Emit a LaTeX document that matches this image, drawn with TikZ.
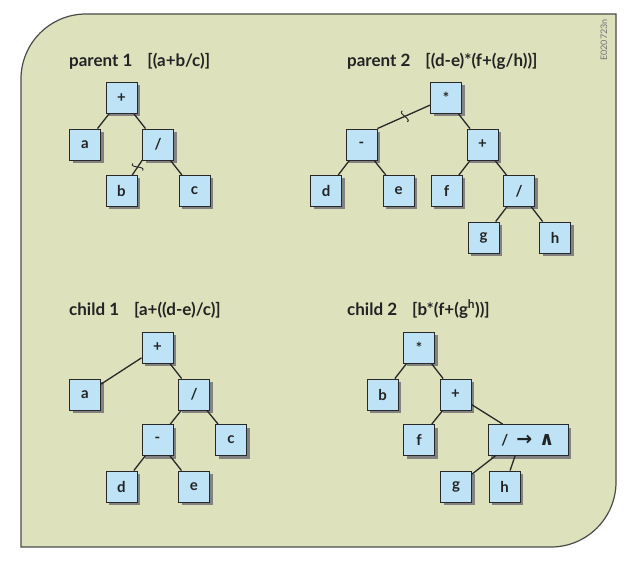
\documentclass[tikz,border=0pt]{standalone}
\usepackage{fontspec}
\setmainfont{Lato}
\newfontfamily\symfont{DejaVu Sans}
\usetikzlibrary{shadows,calc}
\definecolor{PanelClr}{RGB}{221,226,189}
\definecolor{PanelLine}{RGB}{75,75,75}
\definecolor{BoxClr}{RGB}{190,226,246}
\definecolor{BoxLine}{RGB}{40,40,40}
\definecolor{ShadowClr}{RGB}{130,130,130}
\definecolor{TextClr}{RGB}{35,35,35}

\tikzset{
  treebox/.style={draw=BoxLine, line width=0.9pt, fill=BoxClr,
    minimum width=31pt, minimum height=31pt, inner sep=0pt, text=TextClr,
    font=\bfseries\fontsize{15}{15}\selectfont,
    drop shadow={shadow xshift=3pt, shadow yshift=-3pt, fill=ShadowClr, opacity=1}},
  link/.style={draw=BoxLine, line width=1.3pt},
  cutmark/.style={draw=BoxLine, line width=0.9pt},
  title/.style={anchor=base west, inner sep=0pt, text=TextClr,
    font=\bfseries\fontsize{17}{17}\selectfont},
}

\begin{document}
\begin{tikzpicture}[x=1pt,y=-1pt]
\fill[white] (0,0) rectangle (636,561);
\useasboundingbox (0,0) rectangle (636,561);

% panel
\draw[fill=PanelClr, draw=PanelLine, line width=1.2pt]
  (21,547) -- (21,79) arc[start angle=180, end angle=90, radius=65pt]
  -- (616,14) -- (616,482) arc[start angle=0, end angle=-90, radius=65pt]
  -- cycle;
\node[rotate=90, text=black!55, font=\fontsize{9}{9}\selectfont] (code) at (604,40) {E020723n};

% parent 1
\node[title] (t1) at (69,67) {parent 1\hspace{15pt}[(a+b/c)]};
\node[treebox] (p1plus) at (121.5,98) {+};
\node[treebox] (p1a) at (85,144.5) {a};
\node[treebox] (p1div) at (158,144.5) {/};
\node[treebox] (p1b) at (121.5,191) {b};
\node[treebox] (p1c) at (194.5,191) {c};

\draw[link] (p1plus) -- (p1a);
\draw[link] (p1plus) -- (p1div);
\draw[link] (p1div.south west) -- (p1b) coordinate[pos=.45] (cut1);
\draw[link] (p1div) -- (p1c);
\draw[cutmark] ($(cut1)+(-5,-3.5)$) .. controls +(-3.4,5) and +(3.4,-5) .. ($(cut1)+(5,3.5)$);

% parent 2
\node[title] (t2) at (347,67) {parent 2\hspace{15pt}[(d-e)*(f+(g/h))]};
\node[treebox] (p2mul) at (446,98) {*};
\node[treebox] (p2minus) at (361.5,144.5) {-};
\node[treebox] (p2plus) at (482.5,144.5) {+};
\node[treebox] (p2d) at (326,191) {d};
\node[treebox] (p2e) at (398.5,191) {e};
\node[treebox] (p2f) at (446.5,191) {f};
\node[treebox] (p2div) at (519,191) {/};
\node[treebox] (p2g) at (483.5,237.5) {g};
\node[treebox] (p2h) at (555,237.5) {h};

\draw[link] (p2mul) -- (p2minus.north east) coordinate[pos=.48] (cut2);
\draw[link] (p2mul) -- (p2plus);
\draw[link] (p2minus) -- (p2d);
\draw[link] (p2minus) -- (p2e);
\draw[link] (p2plus) -- (p2f);
\draw[link] (p2plus) -- (p2div);
\draw[link] (p2div) -- (p2g);
\draw[link] (p2div) -- (p2h);
\draw[cutmark] ($(cut2)+(-2.4,-5.5)$) .. controls +(-5.5,2.4) and +(5.5,-2.4) .. ($(cut2)+(2.4,5.5)$);

% child 1
\node[title] (t3) at (69,315) {child 1\hspace{15pt}[a+((d-e)/c)]};
\node[treebox] (c1plus) at (157.5,347.5) {+};
\node[treebox] (c1a) at (85,394.5) {a};
\node[treebox] (c1div) at (194,394.5) {/};
\node[treebox] (c1minus) at (157.5,440) {-};
\node[treebox] (c1c) at (231,440) {c};
\node[treebox] (c1d) at (121.5,486.5) {d};
\node[treebox] (c1e) at (194,486.5) {e};

\draw[link] (c1plus) -- (c1a);
\draw[link] (c1plus) -- (c1div);
\draw[link] (c1div) -- (c1minus);
\draw[link] (c1div) -- (c1c);
\draw[link] (c1minus) -- (c1d);
\draw[link] (c1minus) -- (c1e);

% child 2
\node[title] (t4) at (347,315) {child 2\hspace{15pt}[b*(f+(g\textsuperscript{h}))]};
\node[treebox] (c2mul) at (419,347.5) {*};
\node[treebox] (c2b) at (382.5,394.5) {b};
\node[treebox] (c2plus) at (455.5,394.5) {+};
\node[treebox] (c2f) at (419,440) {f};
\node[treebox, minimum width=80pt] (c2op) at (528,440)
  {/\hspace{8pt}{\symfont\bfseries\fontsize{19}{19}\selectfont →\hspace{7pt}∧}};
\node[treebox] (c2g) at (456,486.5) {g};
\node[treebox] (c2h) at (504.5,486.5) {h};

\draw[link] (c2mul) -- (c2b);
\draw[link] (c2mul) -- (c2plus);
\draw[link] (c2plus) -- (c2f);
\draw[link] (c2plus) -- (c2op);
\draw[link] (c2op.206) -- (c2g);
\draw[link] (c2op.231) -- (c2h);
\end{tikzpicture}
\end{document}
